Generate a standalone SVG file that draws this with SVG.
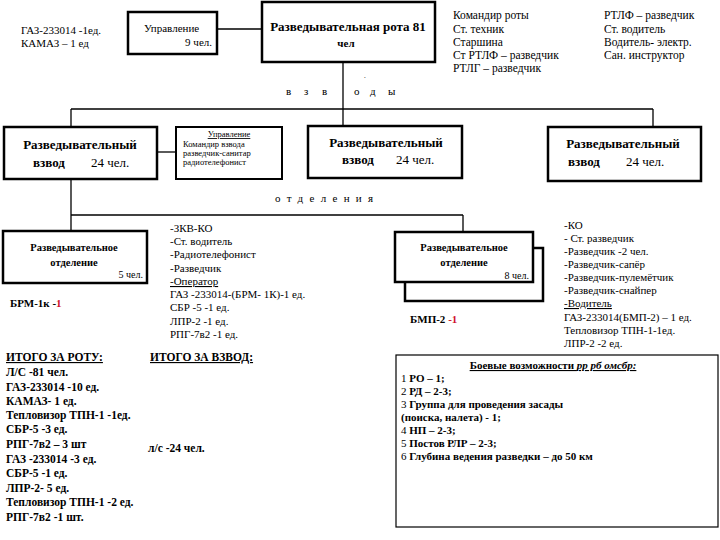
<svg xmlns="http://www.w3.org/2000/svg" width="720" height="540" viewBox="0 0 720 540" font-family="Liberation Serif, DejaVu Serif, serif">
<style>
text{font-family:"Liberation Serif","DejaVu Serif",serif;fill:#000}
.box{fill:#fff;stroke:#000;stroke-width:2.5}
.ln{fill:none;stroke:#000;stroke-width:1.3}
.b{font-weight:bold}
.s10{font-size:10px}
.s11{font-size:11px}
.s105{font-size:10.5px}
.s115{font-size:11.5px}
.s13{font-size:13px}
.s85{font-size:8.5px}
.u{text-decoration:underline}
.red{fill:#d0102a}
</style>
<rect width="720" height="540" fill="#fff"/>
<g id="connectors">
<line class="ln" x1="217" y1="29" x2="262" y2="29"/>
<line class="ln" x1="343" y1="62" x2="343" y2="126"/>
<line class="ln" x1="71" y1="109" x2="653" y2="109"/>
<line class="ln" x1="71" y1="109" x2="71" y2="127"/>
<line class="ln" x1="653" y1="109" x2="653" y2="127"/>
<line class="ln" x1="157" y1="152" x2="176" y2="152"/>
<line class="ln" x1="71" y1="179" x2="71" y2="231"/>
<line class="ln" x1="71" y1="215" x2="463" y2="215"/>
<line class="ln" x1="463" y1="215" x2="463" y2="232"/>
</g>
<g id="top-left-vehicles" class="s11">
<text x="21" y="34">ГАЗ-233014  -1ед.</text>
<text x="21" y="47">КАМАЗ – 1 ед</text>
</g>
<g id="upravlenie-rota">
<rect class="box" x="128" y="12" width="89" height="42"/>
<text class="s11" x="144" y="32">Управление</text>
<text class="s11" x="212" y="46" text-anchor="end">9 чел.</text>
</g>
<g id="rota">
<rect class="box" x="262" y="2" width="173" height="60"/>
<text class="b s13" x="348" y="31" text-anchor="middle">Разведывательная рота 81</text>
<text class="b s11" x="346" y="47" text-anchor="middle">чел</text>
</g>
<g id="rota-staff" class="s115">
<text x="453" y="19">Командир роты</text>
<text x="453" y="33">Ст. техник</text>
<text x="453" y="46">Старшина</text>
<text x="453" y="59">Ст РТЛФ – разведчик</text>
<text x="453" y="72">РТЛГ – разведчик</text>
<text x="604" y="19">РТЛФ – разведчик</text>
<text x="604" y="33">Ст. водитель</text>
<text x="604" y="46">Водитель- электр.</text>
<text x="604" y="59">Сан. инструктор</text>
</g>
<g id="label-vzvody" class="s11">
<text x="364" y="78" font-size="7">.</text>
<text x="286" y="95">в</text>
<text x="304" y="95">з</text>
<text x="322" y="95">в</text>
<text x="354" y="95">о</text>
<text x="370" y="95">д</text>
<text x="388" y="95">ы</text>
</g>
<g id="platoon-left">
<rect class="box" x="4" y="127" width="153" height="52"/>
<text class="b s13" x="80" y="149" text-anchor="middle">Разведывательный</text>
<text class="b s13" x="33" y="167">взвод</text>
<text class="s13" x="91" y="167">24 чел.</text>
</g>
<g id="upravlenie-vzvoda" class="s85">
<rect class="box" x="176" y="127" width="106" height="52" style="stroke-width:2"/>
<text x="229" y="137" text-anchor="middle" class="u">Управление</text>
<text x="183" y="147">Командир взвода</text>
<text x="183" y="156">разведчик-санитар</text>
<text x="183" y="165">радиотелефонист</text>
</g>
<g id="platoon-center">
<rect class="box" x="308" y="126" width="154" height="52"/>
<text class="b s13" x="386" y="147" text-anchor="middle">Разведывательный</text>
<text class="b s13" x="342" y="164">взвод</text>
<text class="s13" x="396" y="164">24 чел.</text>
</g>
<g id="platoon-right">
<rect class="box" x="548" y="127" width="153" height="54"/>
<text class="b s13" x="623" y="148" text-anchor="middle">Разведывательный</text>
<text class="b s13" x="568" y="166">взвод</text>
<text class="s13" x="626" y="166">24 чел.</text>
</g>
<g id="label-otdeleniya">
<text class="s11" x="275" y="202" letter-spacing="6.3">отделения</text>
</g>
<g id="section-brm">
<rect class="box" x="3" y="231" width="144" height="52"/>
<text class="b s105" x="74" y="251" text-anchor="middle">Разведывательное</text>
<text class="b s105" x="74" y="266" text-anchor="middle">отделение</text>
<text class="s10" x="143" y="278" text-anchor="end">5 чел.</text>
</g>
<g id="brm-vehicle">
<text class="b s11" x="10" y="307">БРМ-1к -<tspan class="red">1</tspan></text>
</g>
<g id="brm-list" class="s11">
<text x="170" y="232">-ЗКВ-КО</text>
<text x="170" y="245">-Ст. водитель</text>
<text x="170" y="258">-Радиотелефонист</text>
<text x="170" y="272">-Разведчик</text>
<text x="170" y="285" class="u">-Оператор</text>
<text x="170" y="298">ГАЗ -233014-(БРМ- 1К)-1 ед.</text>
<text x="170" y="311">СБР -5 -1 ед.</text>
<text x="170" y="325">ЛПР-2 -1 ед.</text>
<text x="170" y="338">РПГ-7в2 -1 ед.</text>
</g>
<g id="section-bmp">
<polyline class="box" points="533,248 543,248 543,301 405,301 405,282" style="fill:none"/>
<rect class="box" x="395" y="232" width="138" height="50"/>
<text class="b s105" x="464" y="251" text-anchor="middle">Разведывательное</text>
<text class="b s105" x="464" y="266" text-anchor="middle">отделение</text>
<text class="s10" x="529" y="279" text-anchor="end">8 чел.</text>
<text x="542" y="271" font-size="7">.</text>
</g>
<g id="bmp-vehicle">
<text class="b s11" x="410" y="323">БМП-2 <tspan class="red">-1</tspan></text>
</g>
<g id="bmp-list" class="s11">
<text x="564" y="229">-КО</text>
<text x="564" y="242">- Ст. разведчик</text>
<text x="564" y="255">-Разведчик -2 чел.</text>
<text x="564" y="268">-Разведчик-сапёр</text>
<text x="564" y="281">-Разведчик-пулемётчик</text>
<text x="564" y="294">-Разведчик-снайпер</text>
<text x="564" y="307" class="u">-Водитель</text>
<text x="564" y="321">ГАЗ-233014(БМП-2) – 1 ед.</text>
<text x="564" y="334">Тепловизор ТПН-1-1ед.</text>
<text x="564" y="347">ЛПР-2 -2 ед.</text>
</g>
<g id="itogo-rota" class="b s115">
<text x="6" y="361" class="u">ИТОГО ЗА РОТУ:</text>
<text x="6" y="376">Л/С -81 чел.</text>
<text x="6" y="391">ГАЗ-233014 -10 ед.</text>
<text x="6" y="405">КАМАЗ- 1 ед.</text>
<text x="6" y="419">Тепловизор ТПН-1 -1ед.</text>
<text x="6" y="433">СБР-5 -3 ед.</text>
<text x="6" y="448">РПГ-7в2 – 3 шт</text>
<text x="6" y="463">ГАЗ -233014 -3 ед.</text>
<text x="6" y="477">СБР-5 -1 ед.</text>
<text x="6" y="492">ЛПР-2- 5 ед.</text>
<text x="6" y="506">Тепловизор ТПН-1 -2 ед.</text>
<text x="6" y="521">РПГ-7в2 -1 шт.</text>
</g>
<g id="itogo-vzvod" class="b s115">
<text x="150" y="361" class="u">ИТОГО ЗА ВЗВОД:</text>
<text x="148" y="452">л/с -24 чел.</text>
</g>
<g id="combat-capabilities">
<rect x="396" y="355" width="322" height="172" fill="#fff" stroke="#000" stroke-width="1.2"/>
<text class="b s11 u" x="553" y="369" text-anchor="middle">Боевые возможности <tspan font-style="italic">рр рб омсбр:</tspan></text>
<text class="s11" x="401" y="382">1 <tspan class="b">РО – 1;</tspan></text>
<text class="s11" x="401" y="395">2 <tspan class="b">РД – 2-3;</tspan></text>
<text class="s11" x="401" y="408">3 <tspan class="b">Группа для проведения засады</tspan></text>
<text class="s11 b" x="401" y="421">(поиска, налета)  -  1;</text>
<text class="s11" x="401" y="434">4 <tspan class="b">НП – 2-3;</tspan></text>
<text class="s11" x="401" y="447">5 <tspan class="b">Постов РЛР – 2-3;</tspan></text>
<text class="s11" x="401" y="460">6 <tspan class="b">Глубина ведения разведки – до 50 км</tspan></text>
</g>
</svg>
